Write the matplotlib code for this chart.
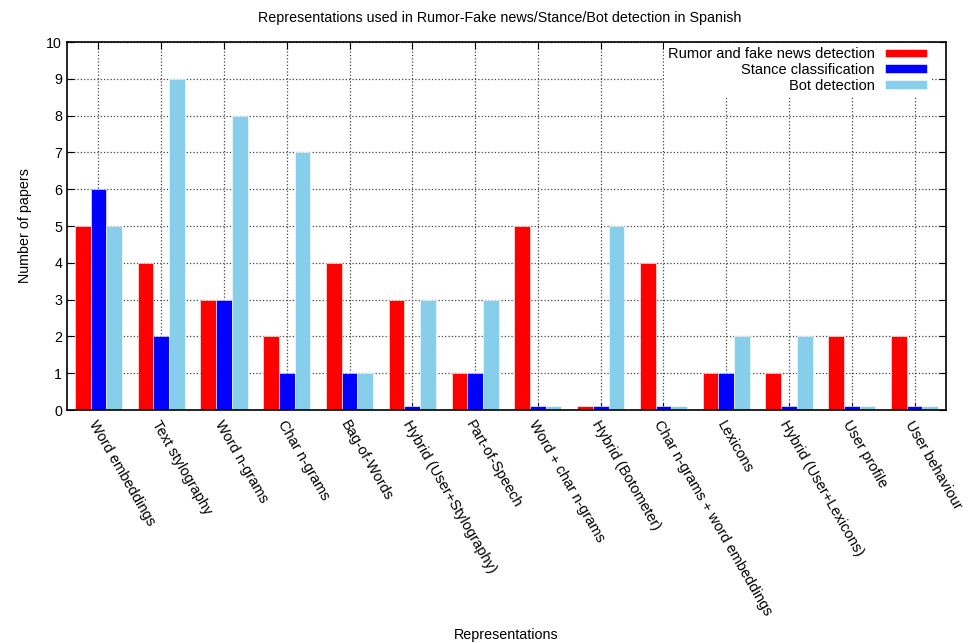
import matplotlib
matplotlib.use("Agg")
import matplotlib.pyplot as plt
import numpy as np

categories = ["Word embeddings", "Text stylography", "Word n-grams", "Char n-grams",
              "Bag-of-Words", "Hybrid (User+Stylography)", "Part-of-Speech",
              "Word + char n-grams", "Hybrid (Botometer)", "Char n-grams + word embeddings",
              "Lexicons", "Hybrid (User+Lexicons)", "User profile", "User behaviour"]
rumor = [5, 4, 3, 2, 4, 3, 1, 5, 0.1, 4, 1, 1, 2, 2]
stance = [6, 2, 3, 1, 1, 0.1, 1, 0.1, 0.1, 0.1, 1, 0.1, 0.1, 0.1]
bot = [5, 9, 8, 7, 1, 3, 3, 0.1, 5, 0.1, 2, 2, 0.1, 0.1]
series_names = ["Rumor and fake news detection", "Stance classification", "Bot detection"]
colors = ["#ff0000", "#0000ff", "#87ceeb"]

plt.rcParams['font.family'] = ['Liberation Sans', 'DejaVu Sans']

fig = plt.figure(figsize=(9.76, 6.43), dpi=100)
ax = fig.add_axes([67/976, 1-410/643, (946-67)/976, (410-42)/643])

x = np.arange(len(categories))
w = 0.25
for i, (vals, name, c) in enumerate(zip([rumor, stance, bot], series_names, colors)):
    ax.bar(x + (i-1)*w, vals, width=w, color=c, label=name, zorder=2,
           edgecolor='white', linewidth=0.4)

ax.set_xlim(-0.5, len(categories)-0.5)
ax.set_ylim(0, 10)
ax.set_yticks(range(0, 11))
ax.set_xticks(x)
ax.set_xticklabels(categories, rotation=-60, ha='left', va='top', rotation_mode='anchor', fontsize=10.5)
ax.tick_params(axis='y', direction='in', right=True, labelsize=10.3, length=5)
ax.tick_params(axis='x', direction='in', top=True, length=5, pad=6)
ax.grid(True, linestyle=':', color='#444444', linewidth=0.9, zorder=0)
ax.set_axisbelow(True)
for s in ax.spines.values():
    s.set_linewidth(1.2)

fig.text(500/976, 1-18/643, "Representations used in Rumor-Fake news/Stance/Bot detection in Spanish",
         ha='center', va='center', fontsize=10.3)
ax.set_ylabel("Number of papers", fontsize=10.3, labelpad=10)
fig.text(506/976, 1-635/643, "Representations", ha='center', va='center', fontsize=10.3)

leg = ax.legend(loc='upper right', bbox_to_anchor=(0.983, 0.996), markerfirst=False,
                frameon=True, fancybox=False, edgecolor='none', framealpha=1,
                fontsize=10.5, handlelength=2.9, handleheight=0.55, labelspacing=0.13,
                borderaxespad=0.0, borderpad=0.25, handletextpad=0.7)
leg.set_zorder(5)

fig.savefig("out.png", dpi=100)
